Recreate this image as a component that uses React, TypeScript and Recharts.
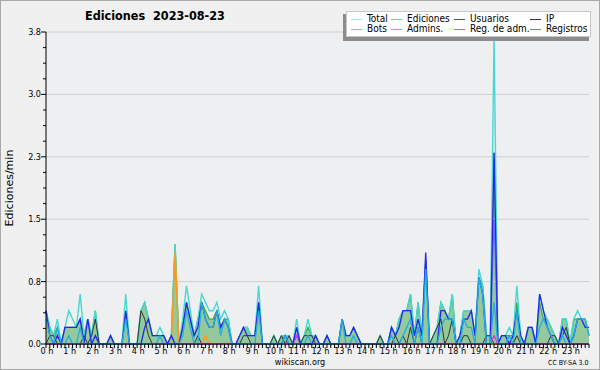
import { ComposedChart, Area, Line, XAxis, YAxis, ReferenceLine, CartesianGrid } from 'recharts';

const FONT = '"DejaVu Sans Condensed", "DejaVu Sans", sans-serif';

// 10-minute slots, 6 per hour, one row per hour
const total = [
  0.4, 0.2, 0.1, 0.3, 0, 0.2,
  0.4, 0.3, 0.2, 0.6, 0.1, 0.3,
  0.1, 0.4, 0, 0, 0, 0.1,
  0, 0, 0, 0.6, 0, 0,
  0, 0.4, 0.5, 0.3, 0.1, 0.1,
  0.2, 0.1, 0, 0.1, 1.2, 0,
  0.3, 0.7, 0.4, 0.1, 0.3, 0.6,
  0.5, 0.4, 0.4, 0.5, 0.3, 0.4,
  0.3, 0, 0, 0.1, 0.2, 0.2,
  0.1, 0.1, 0.7, 0, 0, 0,
  0.1, 0, 0.1, 0.1, 0.1, 0,
  0.3, 0, 0.1, 0.3, 0.1, 0.1,
  0, 0, 0.1, 0, 0, 0,
  0.3, 0.1, 0.1, 0.2, 0.1, 0,
  0, 0, 0, 0, 0.1, 0,
  0, 0.2, 0.1, 0.3, 0.4, 0.4,
  0.6, 0.1, 0.5, 0.1, 1.0, 0,
  0.1, 0.2, 0.5, 0.4, 0.3, 0.6,
  0, 0.1, 0.4, 0.4, 0.4, 0.1,
  0.9, 0.7, 0.1, 0.1, 3.7, 0,
  0.1, 0.1, 0.2, 0.1, 0.7, 0.1,
  0, 0.2, 0.2, 0, 0.6, 0.4,
  0.3, 0.2, 0.1, 0, 0.3, 0.3,
  0, 0.3, 0.4, 0.3, 0.3, 0.1,
];

const ediciones = [
  0.4, 0.2, 0.1, 0.2, 0, 0.2,
  0.2, 0.2, 0.2, 0.3, 0.1, 0.3,
  0.1, 0.4, 0, 0, 0, 0.1,
  0, 0, 0, 0.4, 0, 0,
  0, 0.4, 0.5, 0.3, 0.1, 0.1,
  0.1, 0.1, 0, 0.1, 1.2, 0,
  0.2, 0.5, 0.3, 0.1, 0.3, 0.5,
  0.4, 0.3, 0.3, 0.4, 0.2, 0.3,
  0.3, 0, 0, 0.1, 0.2, 0.2,
  0.1, 0.1, 0.5, 0, 0, 0,
  0.1, 0, 0.1, 0.1, 0.1, 0,
  0.2, 0, 0.1, 0.2, 0.1, 0.1,
  0, 0, 0.1, 0, 0, 0,
  0.3, 0.1, 0.1, 0.2, 0.1, 0,
  0, 0, 0, 0, 0.1, 0,
  0, 0.2, 0.1, 0.3, 0.4, 0.4,
  0.6, 0.1, 0.5, 0.1, 1.0, 0,
  0.1, 0.2, 0.5, 0.4, 0.3, 0.6,
  0, 0.1, 0.4, 0.4, 0.4, 0.1,
  0.8, 0.7, 0.1, 0.1, 2.3, 0,
  0.1, 0.1, 0.1, 0.1, 0.5, 0.1,
  0, 0.2, 0.2, 0, 0.5, 0.3,
  0.3, 0.2, 0.1, 0, 0.3, 0.3,
  0, 0.3, 0.3, 0.3, 0.3, 0.1,
];

const usuarios = [
  0.4, 0.1, 0, 0.1, 0, 0.2,
  0.2, 0.2, 0.2, 0.3, 0, 0.3,
  0, 0.1, 0, 0, 0, 0.1,
  0, 0, 0, 0.4, 0, 0,
  0, 0, 0.2, 0.3, 0.1, 0.1,
  0.1, 0.1, 0, 0.1, 0, 0,
  0.2, 0.5, 0.3, 0.1, 0.2, 0.5,
  0.3, 0.2, 0.2, 0.4, 0.2, 0.3,
  0.2, 0, 0, 0.1, 0.2, 0.1,
  0.1, 0.1, 0.5, 0, 0, 0,
  0, 0, 0, 0.1, 0, 0,
  0.2, 0, 0, 0, 0, 0.1,
  0, 0, 0.1, 0, 0, 0,
  0.3, 0.1, 0.1, 0.2, 0.1, 0,
  0, 0, 0, 0, 0, 0,
  0, 0.2, 0.1, 0.2, 0.4, 0.4,
  0.4, 0.1, 0.3, 0.1, 1.1, 0,
  0, 0, 0.4, 0.4, 0.3, 0.3,
  0, 0.1, 0.3, 0.3, 0.4, 0.1,
  0.8, 0.6, 0, 0, 2.3, 0,
  0.1, 0.1, 0, 0.1, 0.4, 0.1,
  0, 0.2, 0.2, 0, 0.6, 0.4,
  0.2, 0.1, 0, 0, 0.2, 0.1,
  0, 0.1, 0.3, 0.3, 0.2, 0.2,
];

const ip = [
  0, 0.1, 0.1, 0, 0, 0,
  0, 0, 0, 0, 0.1, 0,
  0.1, 0.3, 0, 0, 0, 0,
  0, 0, 0, 0, 0, 0,
  0, 0.4, 0.3, 0.1, 0, 0,
  0, 0, 0, 0, 0, 0,
  0, 0, 0, 0, 0.1, 0,
  0, 0, 0, 0, 0, 0,
  0, 0, 0, 0, 0.1, 0.1,
  0, 0, 0, 0, 0, 0,
  0.1, 0, 0.1, 0, 0.1, 0,
  0, 0, 0.1, 0.1, 0.1, 0,
  0, 0, 0, 0, 0, 0,
  0, 0, 0, 0, 0, 0,
  0, 0, 0, 0, 0.1, 0,
  0, 0, 0.1, 0, 0.1, 0,
  0.2, 0, 0.2, 0, 0, 0,
  0.1, 0.2, 0.3, 0, 0.1, 0.3,
  0, 0, 0.1, 0.1, 0, 0,
  0, 0, 0.1, 0.1, 0, 0,
  0, 0, 0, 0, 0.1, 0,
  0, 0, 0, 0, 0, 0,
  0, 0.1, 0.1, 0, 0.1, 0.2,
  0, 0, 0, 0, 0, 0,
];

const bots = [
  0, 0, 0, 0, 0, 0,
  0, 0, 0, 0, 0, 0,
  0, 0, 0, 0, 0, 0,
  0, 0, 0, 0, 0, 0,
  0, 0, 0, 0, 0, 0,
  0, 0, 0, 0, 1.1, 0,
  0, 0, 0, 0, 0, 0,
  0.1, 0, 0, 0, 0, 0,
  0, 0, 0, 0, 0, 0,
  0, 0, 0, 0, 0, 0,
  0, 0, 0, 0, 0, 0,
  0, 0, 0, 0, 0, 0,
  0, 0, 0, 0, 0, 0,
  0, 0, 0, 0, 0, 0,
  0, 0, 0, 0, 0, 0,
  0, 0, 0, 0, 0, 0,
  0, 0, 0, 0, 0, 0,
  0, 0, 0, 0, 0, 0,
  0, 0, 0, 0, 0, 0,
  0, 0, 0, 0, 0, 0,
  0, 0, 0, 0, 0, 0,
  0, 0, 0, 0, 0, 0,
  0, 0, 0, 0, 0, 0,
  0, 0, 0, 0, 0, 0,
];

const admins = [
  0.3, 0.1, 0, 0.2, 0, 0,
  0.1, 0, 0, 0.2, 0, 0,
  0, 0, 0, 0, 0, 0,
  0, 0, 0, 0.3, 0, 0,
  0, 0, 0, 0, 0, 0,
  0.1, 0, 0, 0, 0, 0,
  0.1, 0.4, 0.2, 0, 0, 0.5,
  0.3, 0.2, 0.2, 0.4, 0.1, 0.3,
  0.2, 0, 0, 0, 0, 0,
  0, 0, 0.4, 0, 0, 0,
  0, 0, 0, 0.1, 0, 0,
  0, 0, 0, 0.1, 0, 0,
  0, 0, 0, 0, 0, 0,
  0.3, 0, 0, 0.1, 0, 0,
  0, 0, 0, 0, 0, 0,
  0, 0.1, 0, 0, 0.1, 0.2,
  0.3, 0, 0.2, 0, 0.9, 0,
  0, 0, 0.2, 0.3, 0.3, 0.3,
  0, 0, 0.3, 0.2, 0.2, 0,
  0.8, 0.6, 0, 0, 0.5, 0,
  0, 0, 0.1, 0, 0.4, 0,
  0, 0, 0, 0, 0.2, 0.3,
  0.2, 0.1, 0, 0, 0.1, 0,
  0, 0.1, 0.3, 0.3, 0.3, 0.1,
];

const regAdmin = [
  0, 0, 0, 0, 0, 0,
  0, 0, 0, 0, 0, 0,
  0, 0, 0, 0, 0, 0,
  0, 0, 0, 0, 0, 0,
  0, 0, 0, 0, 0, 0,
  0, 0, 0, 0, 0, 0,
  0, 0, 0, 0, 0, 0,
  0, 0, 0, 0, 0, 0,
  0, 0, 0, 0, 0, 0,
  0, 0, 0, 0, 0, 0,
  0, 0, 0, 0, 0, 0,
  0.1, 0, 0, 0, 0, 0,
  0, 0, 0, 0, 0, 0,
  0, 0, 0, 0, 0, 0,
  0, 0, 0, 0, 0, 0,
  0, 0, 0, 0, 0, 0,
  0, 0, 0, 0, 0, 0,
  0, 0, 0, 0, 0, 0,
  0, 0, 0, 0, 0, 0,
  0, 0, 0, 0, 0.1, 0,
  0, 0, 0, 0, 0, 0,
  0, 0, 0, 0, 0, 0,
  0, 0, 0, 0, 0, 0,
  0, 0, 0, 0, 0, 0,
];

const registros = [
  0, 0, 0, 0, 0, 0,
  0, 0, 0, 0, 0, 0,
  0, 0, 0, 0, 0, 0,
  0, 0, 0, 0, 0, 0,
  0, 0, 0, 0, 0, 0,
  0, 0, 0, 0, 0, 0,
  0, 0, 0, 0, 0, 0,
  0, 0, 0, 0, 0, 0,
  0, 0, 0, 0, 0, 0,
  0, 0, 0, 0, 0, 0,
  0, 0, 0, 0, 0, 0,
  0.1, 0, 0, 0, 0, 0,
  0, 0, 0, 0, 0, 0,
  0, 0, 0, 0, 0, 0,
  0, 0, 0, 0, 0, 0,
  0, 0, 0, 0, 0, 0,
  0, 0, 0, 0, 0, 0,
  0, 0, 0, 0, 0, 0,
  0, 0, 0, 0, 0, 0,
  0, 0, 0, 0, 1.5, 0,
  0, 0, 0, 0, 0, 0,
  0, 0, 0, 0, 0, 0,
  0, 0, 0, 0, 0, 0,
  0, 0, 0, 0, 0, 0,
];

const hourLabels = Array.from({ length: 24 }, (_, h) => `${h} h`);
const yMajor = [0, 0.75, 1.5, 2.25, 3, 3.75];
const yMajorLabels = ['0.0', '0.8', '1.5', '2.3', '3.0', '3.8'];

const COLORS = {
  total: '#45d9d0',
  ediciones: '#3aae44',
  edicionesFill: '#93c99b',
  usuarios: '#2424ee',
  ip: '#333333',
  bots: '#ff9a1a',
  admins: '#22aee2',
  regAdmin: '#dd33dd',
  registros: '#6a6aff',
};

const legendItems = [
  { label: 'Total', color: '#9fe6e6' },
  { label: 'Ediciones', color: '#7ccf7c' },
  { label: 'Usuarios', color: '#4040ff' },
  { label: 'IP', color: '#333333' },
  { label: 'Bots', color: '#ffa03a' },
  { label: 'Admins.', color: '#3cd0ea' },
  { label: 'Reg. de adm.', color: '#e04ce6' },
  { label: 'Registros', color: '#7474ff' },
];

const data = total.map((v, i) => ({
  slot: i,
  total: v,
  ediciones: ediciones[i],
  usuarios: usuarios[i],
  ip: ip[i],
  bots: bots[i],
  admins: admins[i],
  regAdmin: regAdmin[i],
  registros: registros[i],
}));

const slotTicks = data.map((d) => d.slot);
const yTicks = yMajor.flatMap((v, k) =>
  k < yMajor.length - 1 ? [v, v + 0.1875, v + 0.375, v + 0.5625] : [v]
);

const XTick = (props: any) => {
  const { x, y, payload } = props;
  const v = payload.value as number;
  return (
    <g>
      <line x1={x} y1={y} x2={x} y2={y + 4} stroke="#000" />
      {v % 6 === 0 && (
        <text x={x + 1} y={y + 10} textAnchor="middle" fontSize={9} fontFamily={FONT} fill="#000">
          {hourLabels[v / 6]}
        </text>
      )}
    </g>
  );
};

const YTick = (props: any) => {
  const { x, y, payload } = props;
  const idx = yMajor.indexOf(payload.value);
  return (
    <g>
      <line x1={x - (idx >= 0 ? 5 : 3)} y1={y} x2={x} y2={y} stroke="#000" />
      {idx >= 0 && (
        <text x={x - 5} y={y + 3} textAnchor="end" fontSize={9} fontFamily={FONT} fill="#000">
          {yMajorLabels[idx]}
        </text>
      )}
    </g>
  );
};

const legendCols = [350, 390, 453, 529];

export default function App() {
  return (
    <div
      style={{
        position: 'absolute',
        left: 0,
        top: 0,
        width: 600,
        height: 370,
        background: '#f0f0f0',
        fontFamily: FONT,
        overflow: 'hidden',
      }}
    >
      <ComposedChart
        width={600}
        height={370}
        data={data}
        margin={{ top: 32, right: 11, bottom: 0, left: 0 }}
      >
        <CartesianGrid fill="#eeeff1" horizontal={false} vertical={false} />
        {yMajor.slice(1).map((v) => (
          <ReferenceLine key={v} y={v} stroke="#cfcfcf" strokeWidth={1} />
        ))}
        <XAxis
          dataKey="slot"
          type="number"
          domain={[0, 143]}
          ticks={slotTicks}
          interval={0}
          height={26}
          tickSize={0}
          tickMargin={0}
          tickLine={false}
          axisLine={{ stroke: '#000' }}
          tick={<XTick />}
        />
        <YAxis
          type="number"
          domain={[0, 3.75]}
          ticks={yTicks}
          interval={0}
          width={46}
          tickSize={0}
          tickMargin={0}
          tickLine={false}
          axisLine={{ stroke: '#000' }}
          tick={<YTick />}
          label={{
            value: 'Ediciones/min',
            angle: -90,
            position: 'insideLeft',
            dx: 4,
            style: { fontSize: 11, fontFamily: '"DejaVu Sans", sans-serif', fill: '#000', textAnchor: 'middle' },
          }}
        />
        <Area
          type="linear"
          dataKey="ediciones"
          stroke={COLORS.ediciones}
          strokeWidth={1.3}
          fill={COLORS.edicionesFill}
          fillOpacity={1}
          isAnimationActive={false}
        />
        <Line type="linear" dataKey="total" stroke={COLORS.total} strokeWidth={1.4} dot={false} isAnimationActive={false} />
        <Line type="linear" dataKey="ip" stroke={COLORS.ip} strokeWidth={1} dot={false} isAnimationActive={false} />
        <Line type="linear" dataKey="bots" stroke={COLORS.bots} strokeWidth={1.5} dot={false} isAnimationActive={false} />
        <Line type="linear" dataKey="registros" stroke={COLORS.registros} strokeWidth={1.2} dot={false} isAnimationActive={false} />
        <Line type="linear" dataKey="regAdmin" stroke={COLORS.regAdmin} strokeWidth={1.2} dot={false} isAnimationActive={false} />
        <Line type="linear" dataKey="usuarios" stroke={COLORS.usuarios} strokeWidth={1.3} dot={false} isAnimationActive={false} />
        <Line type="linear" dataKey="admins" stroke={COLORS.admins} strokeWidth={1.3} dot={false} isAnimationActive={false} />
      </ComposedChart>

      <div
        style={{
          position: 'absolute',
          left: 85,
          top: 8,
          fontSize: 12.5,
          fontWeight: 'bold',
          whiteSpace: 'pre',
          color: '#000',
        }}
      >
        {'Ediciones  2023-08-23'}
      </div>

      <div style={{ position: 'absolute', left: 343, top: 14, width: 246, height: 27, background: '#8c8c8c' }} />
      <div
        style={{
          position: 'absolute',
          left: 346,
          top: 11,
          width: 245,
          height: 26,
          background: '#ffffff',
          border: '1px solid #c8c8c8',
          boxSizing: 'border-box',
        }}
      >
        {legendItems.map((it, k) => {
          const col = k % 4;
          const row = Math.floor(k / 4);
          const left = legendCols[col] - 346;
          return (
            <div
              key={it.label}
              style={{
                position: 'absolute',
                left,
                top: 2 + row * 10,
                height: 10,
                display: 'flex',
                alignItems: 'center',
                fontSize: 10,
                lineHeight: '10px',
                color: '#000',
                whiteSpace: 'nowrap',
              }}
            >
              <span style={{ display: 'inline-block', width: 11, borderTop: `1.5px solid ${it.color}`, marginRight: 5 }} />
              {it.label}
            </div>
          );
        })}
      </div>

      <div
        style={{
          position: 'absolute',
          left: 0,
          width: 600,
          top: 357,
          textAlign: 'center',
          fontSize: 9,
          lineHeight: '10px',
          color: '#000',
        }}
      >
        wikiscan.org
      </div>
      <div style={{ position: 'absolute', left: 548, top: 359, fontSize: 7, lineHeight: '8px', color: '#000' }}>
        CC BY-SA 3.0
      </div>
      <div
        style={{
          position: 'absolute',
          left: 0,
          top: 0,
          width: 600,
          height: 370,
          border: '1px solid #a8a8a8',
          boxSizing: 'border-box',
          pointerEvents: 'none',
        }}
      />
    </div>
  );
}
